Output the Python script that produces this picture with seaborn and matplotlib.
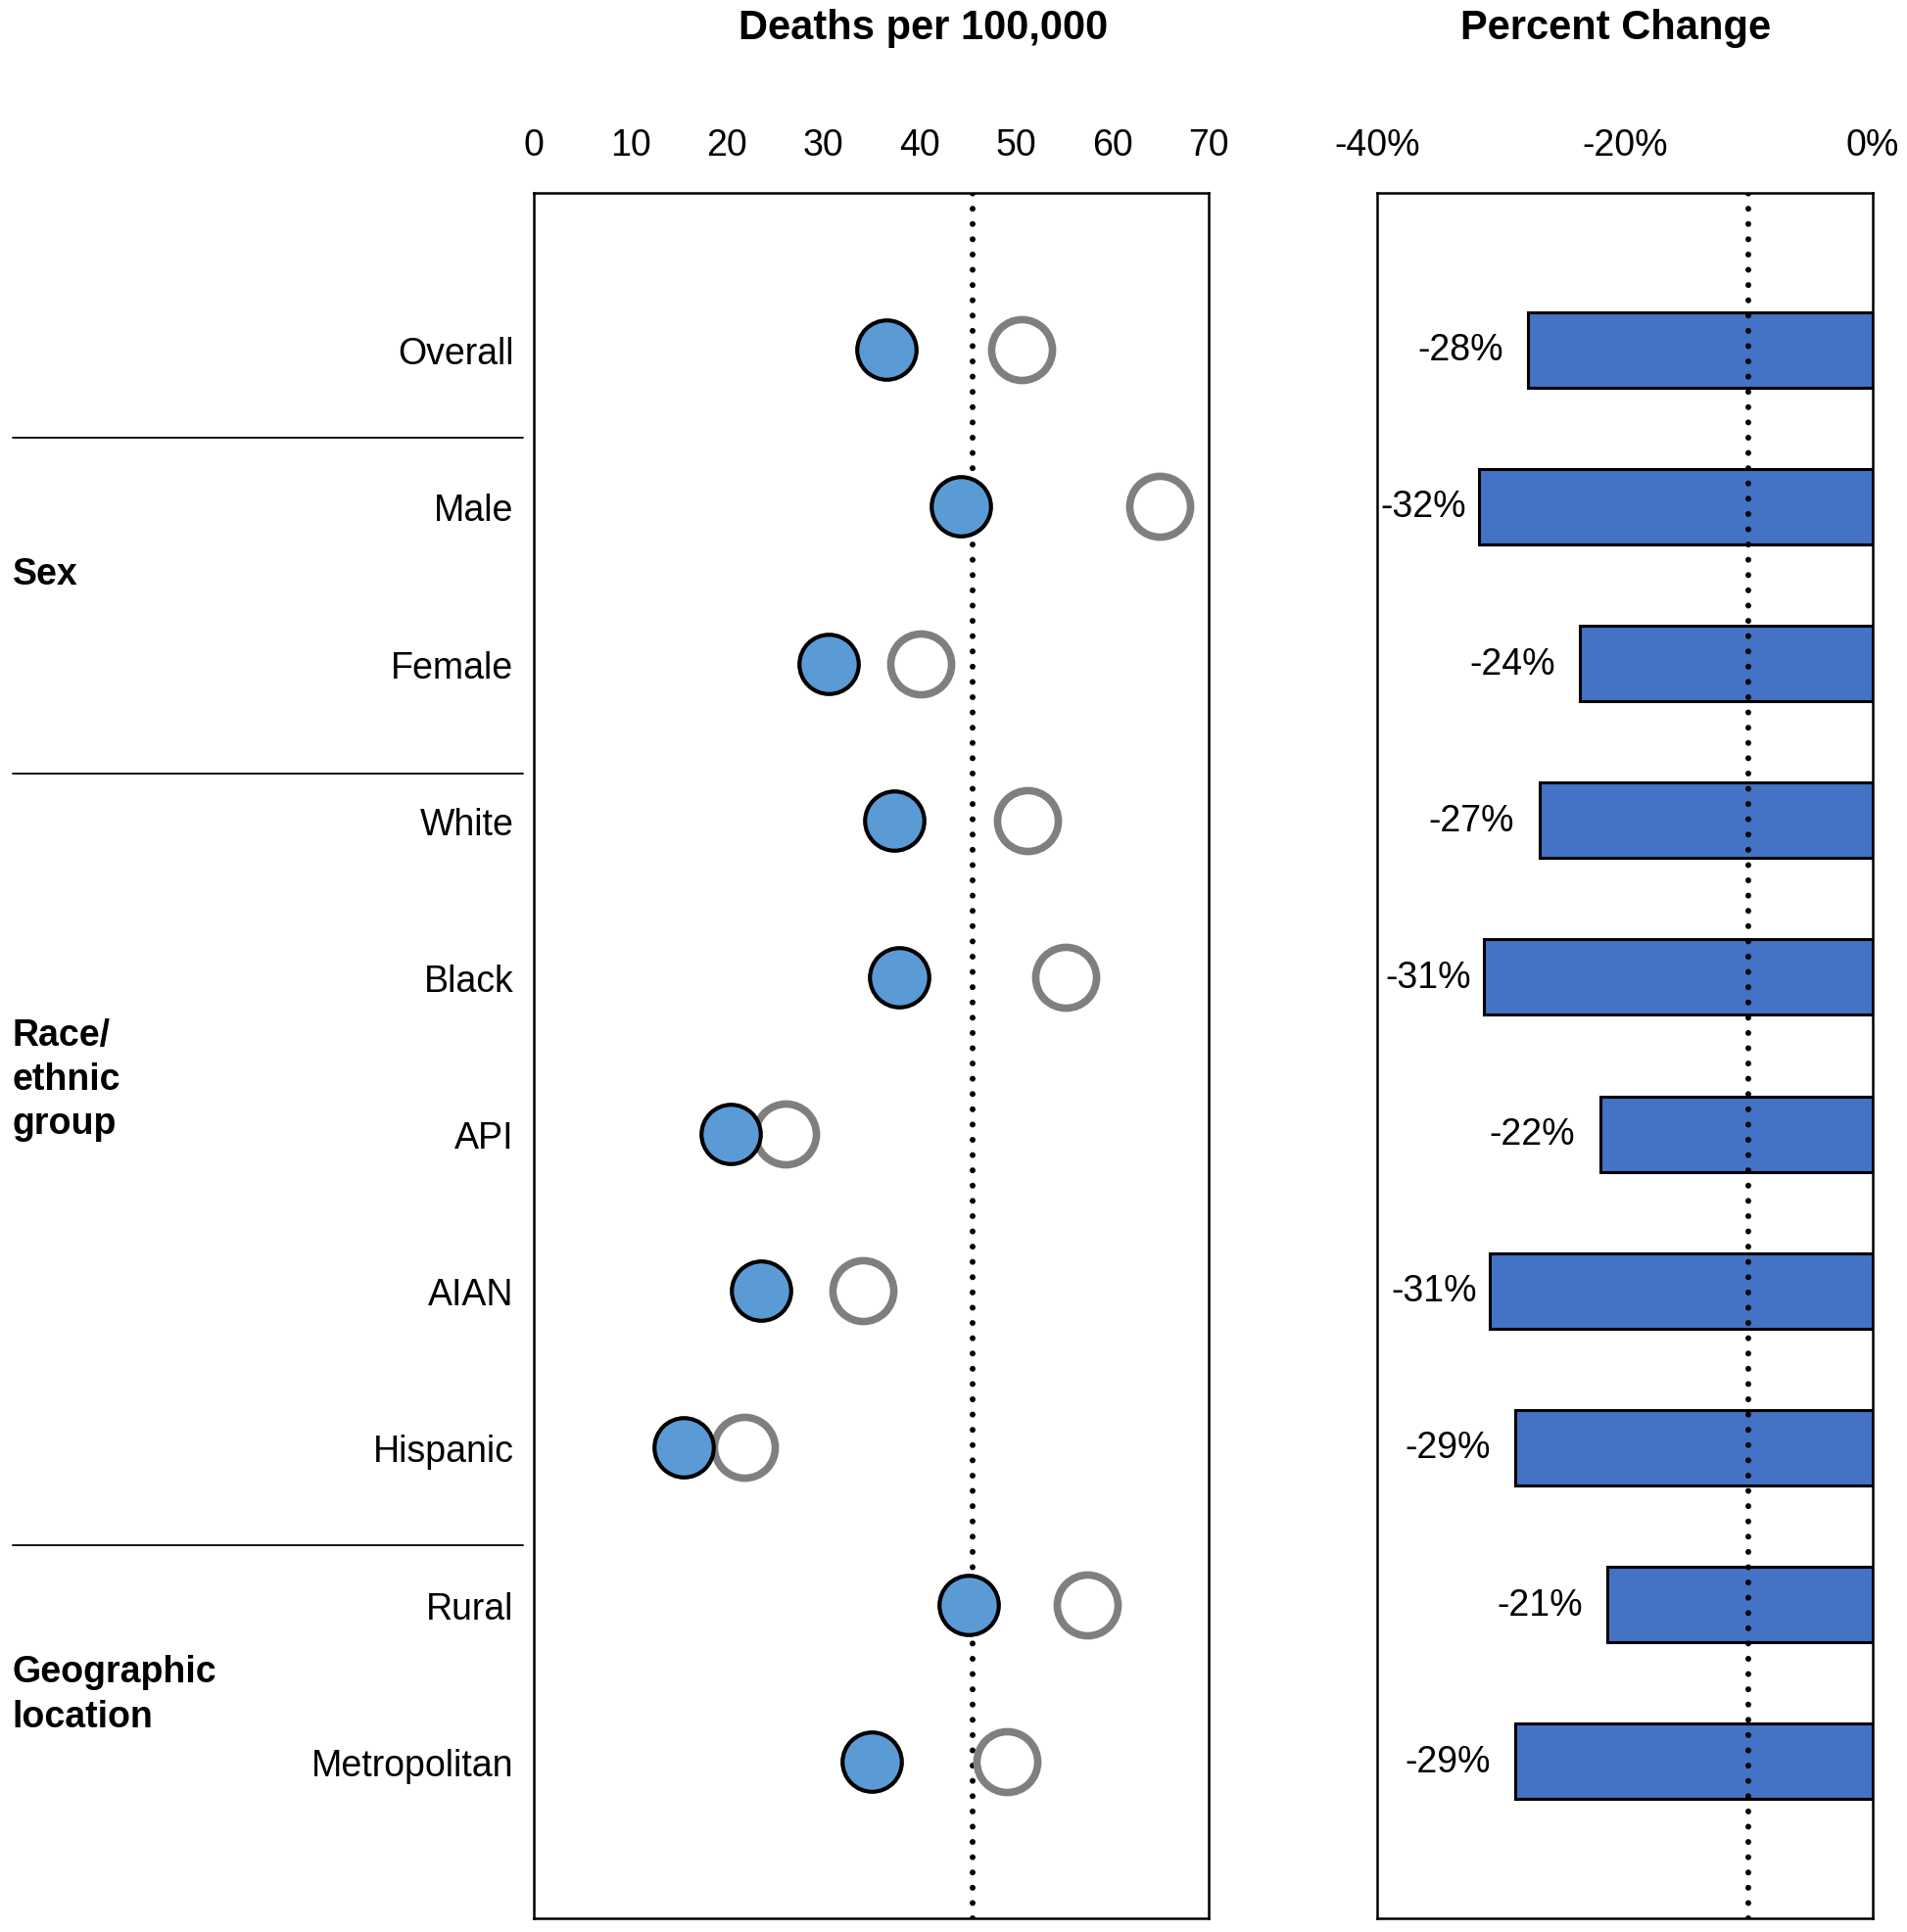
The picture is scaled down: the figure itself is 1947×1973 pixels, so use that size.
import matplotlib
matplotlib.use("Agg")
import matplotlib.pyplot as plt
import matplotlib.transforms as mtransforms
import seaborn as sns
import pandas as pd

categories = ["Overall", "Male", "Female", "White", "Black", "API", "AIAN",
              "Hispanic", "Rural", "Metropolitan"]
rate_after = [36.5, 44.3, 30.6, 37.4, 37.9, 20.4, 23.5, 15.5, 45.1, 35.0]
rate_before = [50.6, 64.9, 40.1, 51.2, 55.1, 26.1, 34.1, 21.8, 57.4, 49.0]
pct_change = [-27.8, -31.8, -23.6, -26.9, -31.4, -22.0, -30.9, -28.8, -21.4, -28.8]
rate_ref = 45.5
pct_ref = -10
rate_ticks = [0, 10, 20, 30, 40, 50, 60, 70]
pct_ticks = [-40, -20, 0]
pct_ticklabels = ["-40%", "-20%", "0%"]
groups = ["Sex", "Race/\nethnic\ngroup", "Geographic\nlocation"]

sns.set_theme(style="white")
plt.rcParams['font.family'] = ['Liberation Sans', 'DejaVu Sans']
plt.rcParams['text.color'] = 'black'
plt.rcParams['xtick.color'] = 'black'
plt.rcParams['ytick.color'] = 'black'
plt.rcParams['axes.labelcolor'] = 'black'

df = pd.DataFrame({"cat": categories, "after": rate_after,
                   "before": rate_before, "pct": pct_change})

fig = plt.figure(figsize=(19.47, 19.74), dpi=100)
ax1 = fig.add_axes([0.280, 0.0071, 0.354, 0.8926])
ax2 = fig.add_axes([0.722, 0.0071, 0.260, 0.8926])

FS = 27
TFS = 30

# left panel
ax1.axvline(rate_ref, color="black", lw=4.3, linestyle=(0, (0.01, 2.6)),
            dash_capstyle="round", zorder=1)
sns.scatterplot(data=df, x="before", y="cat", ax=ax1, s=2000, color="white",
                edgecolor="#7f7f7f", linewidth=5.5, zorder=3, legend=False)
sns.scatterplot(data=df, x="after", y="cat", ax=ax1, s=1900, color="#5B9BD5",
                edgecolor="black", linewidth=3, zorder=4, legend=False)
ax1.set_xlim(0, 70)
ax1.set_ylim(10, -1)
ax1.set_xticks(rate_ticks)
ax1.set_yticks(range(len(categories)))
ax1.set_yticklabels(categories)
ax1.xaxis.tick_top()
ax1.tick_params(axis="x", top=False, bottom=False, labelsize=FS, pad=16)
ax1.tick_params(axis="y", left=False, labelsize=FS, pad=9)
ax1.set_xlabel("")
ax1.set_ylabel("")
for sp in ax1.spines.values():
    sp.set_color("black")
    sp.set_linewidth(1.8)

# right panel
sns.barplot(data=df, x="pct", y="cat", ax=ax2, color="#4472C4", orient="h",
            width=0.48, edgecolor="black", linewidth=2.2, zorder=2,
            saturation=1)
ax2.axvline(pct_ref, color="black", lw=4.3, linestyle=(0, (0.01, 2.6)),
            dash_capstyle="round", zorder=3)
for i, v in enumerate(pct_change):
    xt = v - 2.0 if v - 2.0 > -32.5 else v - 1.0
    ax2.text(xt, i, f"{round(v)}%", ha="right", va="center", fontsize=FS,
             zorder=5)
ax2.set_xlim(-40, 0)
ax2.set_ylim(10, -1)
ax2.set_xticks(pct_ticks)
ax2.set_xticklabels(pct_ticklabels)
ax2.set_yticks([])
ax2.xaxis.tick_top()
ax2.tick_params(axis="x", top=False, bottom=False, labelsize=FS, pad=16)
ax2.set_xlabel("")
ax2.set_ylabel("")
for sp in ax2.spines.values():
    sp.set_color("black")
    sp.set_linewidth(1.8)

# panel titles in figure coordinates
fig.text(749 * 1.2586 / 1947, 1 - 23 * 1.2586 / 1974, "Deaths per 100,000",
         ha="center", va="center", fontsize=TFS, fontweight="bold")
fig.text(1311 * 1.2586 / 1947, 1 - 23 * 1.2586 / 1974, "Percent Change",
         ha="center", va="center", fontsize=TFS, fontweight="bold")

# separators and group labels
trans = mtransforms.blended_transform_factory(fig.transFigure, ax1.transData)
for yy in [0.563, 2.70, 7.62]:
    ax1.plot([0.0065, 0.2745], [yy, yy], color="black", lw=1.3,
             transform=trans, clip_on=False)
for txt, yy in zip(groups, [1.43, 4.65, 8.57]):
    ax1.text(0.0065, yy, txt, transform=trans, ha="left", va="center",
             fontsize=FS, fontweight="bold", linespacing=1.33)

fig.savefig("out.png", dpi=100)
